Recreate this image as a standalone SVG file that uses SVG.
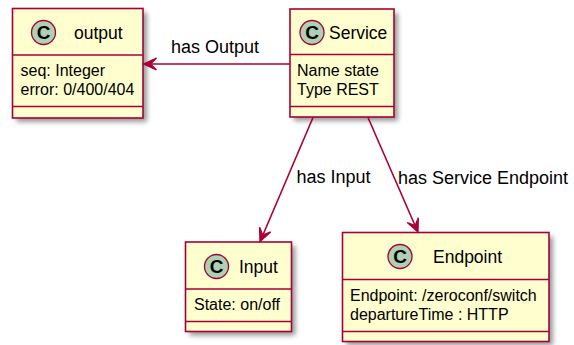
<svg xmlns="http://www.w3.org/2000/svg" width="574" height="345" viewBox="0 0 574 345">
<defs>
<filter id="sh" x="-20%" y="-20%" width="150%" height="150%">
<feGaussianBlur stdDeviation="2.5"/>
</filter>
<style>
.box{fill:#FEFECE;stroke:#A80036;stroke-width:1.6}
.shadow{fill:#000;opacity:0.4;filter:url(#sh)}
.sep{stroke:#A80036;stroke-width:1.6}
.spot{fill:#ADD1B2;stroke:#A80036;stroke-width:1.3}
.c{font-family:"Liberation Sans",Arial,sans-serif;font-weight:bold;font-size:19px;fill:#000;text-anchor:middle}
.name{font-family:"Liberation Sans",Arial,sans-serif;font-size:17.5px;fill:#000}
.attr{font-family:"Liberation Sans",Arial,sans-serif;font-size:16px;fill:#000}
.lbl{font-family:"Liberation Sans",Arial,sans-serif;font-size:18px;fill:#000}
.edge{stroke:#A80036;stroke-width:1.6;fill:none}
.head{fill:#A80036;stroke:#A80036;stroke-width:1.3;stroke-linejoin:miter}
</style>
</defs>
<g id="output">
<rect class="shadow" x="16.5" y="12.5" width="130.5" height="109.5"/>
<rect class="box" x="12.5" y="8.5" width="130.5" height="109.5"/>
<circle class="spot" cx="43.5" cy="32.5" r="12"/>
<text class="c" x="43.5" y="39">C</text>
<text class="name" x="74" y="38.5">output</text>
<line class="sep" x1="12.5" y1="55" x2="143" y2="55"/>
<text class="attr" x="20.5" y="76">seq: Integer</text>
<text class="attr" x="20.5" y="95">error: 0/400/404</text>
<line class="sep" x1="12.5" y1="106.5" x2="143" y2="106.5"/>
</g>
<g id="Service">
<rect class="shadow" x="294" y="13" width="104" height="108"/>
<rect class="box" x="290" y="9" width="104" height="108"/>
<circle class="spot" cx="312" cy="32.5" r="12"/>
<text class="c" x="312" y="39">C</text>
<text class="name" x="329" y="38.5">Service</text>
<line class="sep" x1="290" y1="54.5" x2="394" y2="54.5"/>
<text class="attr" x="297" y="76">Name state</text>
<text class="attr" x="297" y="95">Type REST</text>
<line class="sep" x1="290" y1="106.5" x2="394" y2="106.5"/>
</g>
<g id="Input">
<rect class="shadow" x="189.5" y="246" width="106" height="89.5"/>
<rect class="box" x="185.5" y="242" width="106" height="89.5"/>
<circle class="spot" cx="216.5" cy="266.5" r="12"/>
<text class="c" x="216.5" y="273">C</text>
<text class="name" x="239" y="272.5">Input</text>
<line class="sep" x1="185.5" y1="289" x2="291.5" y2="289"/>
<text class="attr" x="194" y="310">State: on/off</text>
<line class="sep" x1="185.5" y1="321.5" x2="291.5" y2="321.5"/>
</g>
<g id="Endpoint">
<rect class="shadow" x="346.5" y="236.5" width="206.5" height="109"/>
<rect class="box" x="342.5" y="232.5" width="206.5" height="109"/>
<circle class="spot" cx="400" cy="256.5" r="12"/>
<text class="c" x="400" y="263">C</text>
<text class="name" x="433" y="262.5">Endpoint</text>
<line class="sep" x1="342.5" y1="279.5" x2="549" y2="279.5"/>
<text class="attr" x="350" y="300.5">Endpoint: /zeroconf/switch</text>
<text class="attr" x="350" y="319.5">departureTime : HTTP</text>
<line class="sep" x1="342.5" y1="331.5" x2="549" y2="331.5"/>
</g>
<g id="connectors">
<line class="edge" x1="290" y1="64" x2="145" y2="64"/>
<polygon class="head" points="143.5,64 156.5,58 150.5,64 156.5,70"/>
<text class="lbl" x="171" y="53">has Output</text>
<line class="edge" x1="313" y1="117.5" x2="261" y2="239.5"/>
<polygon class="head" points="260,241.5 270.63,231.91 262.75,235.06 259.59,227.19"/>
<text class="lbl" x="296.5" y="183">has Input</text>
<line class="edge" x1="368" y1="117.5" x2="417" y2="230"/>
<polygon class="head" points="418,232 418.3,217.69 415.2,225.59 407.3,222.49"/>
<text class="lbl" x="398" y="183.5">has Service Endpoint</text>
</g>
</svg>
